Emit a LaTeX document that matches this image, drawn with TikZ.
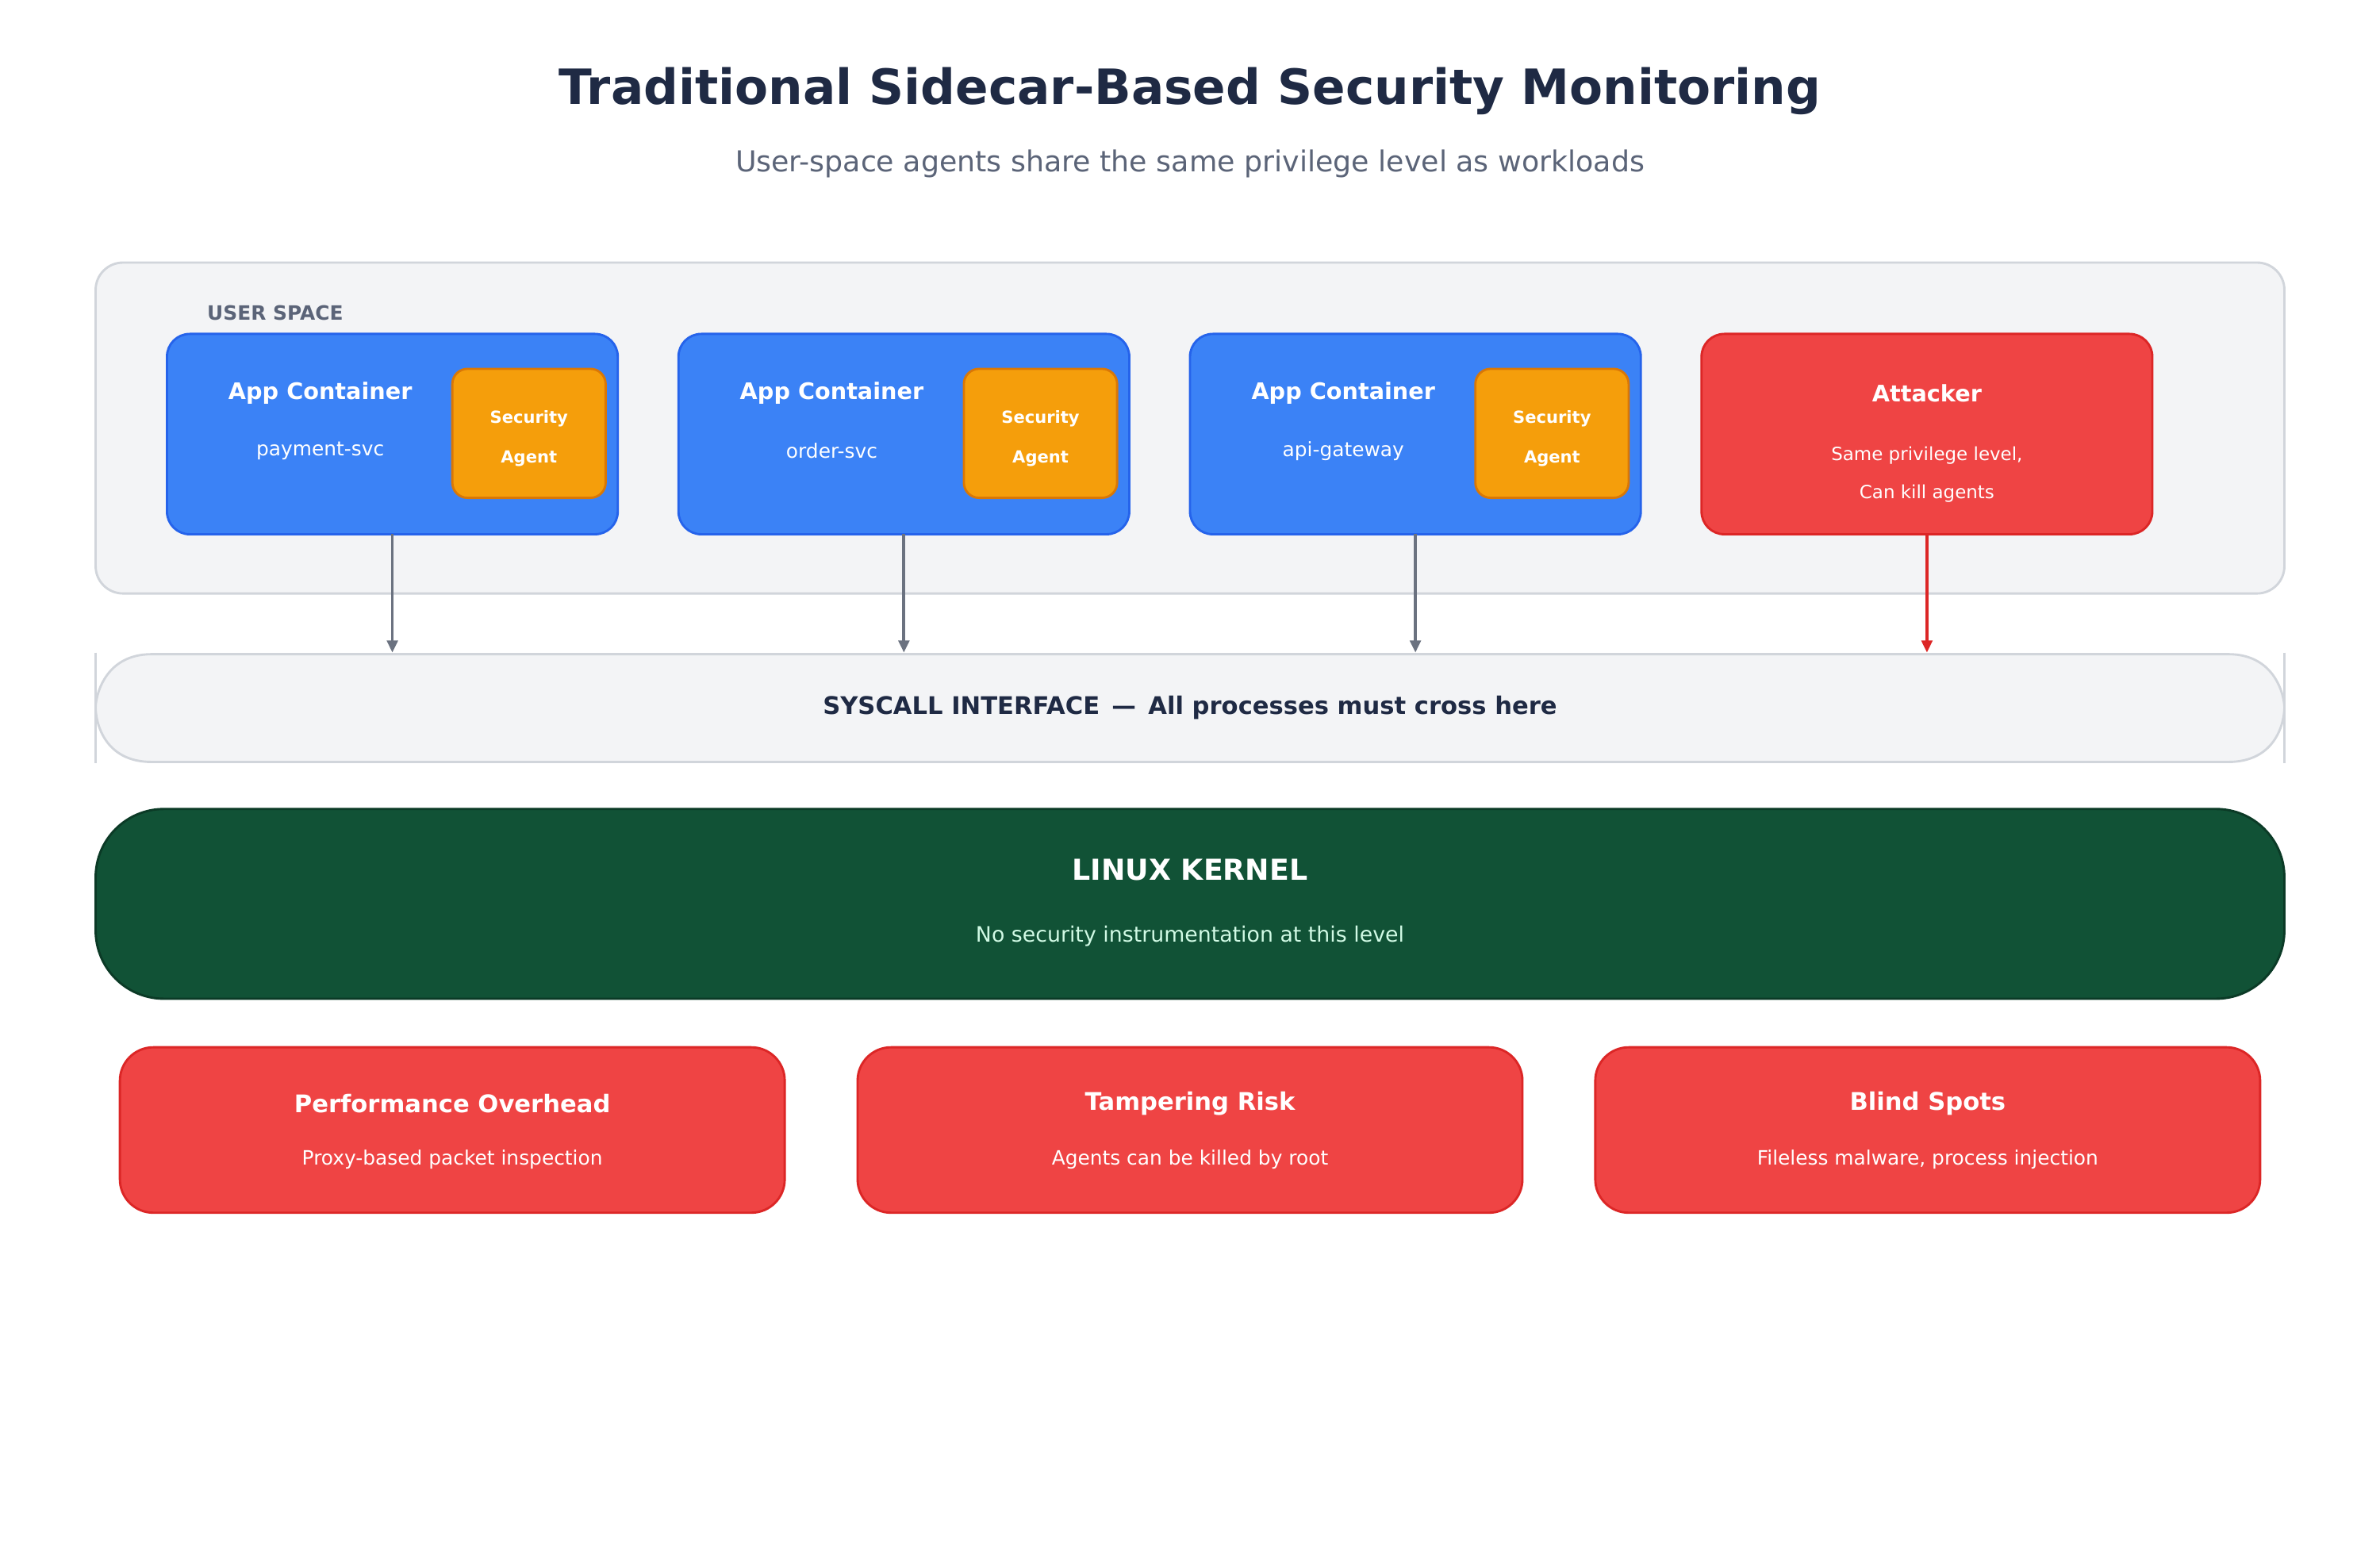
\documentclass[tikz,border=0pt]{standalone}
\usepackage{fontspec}
\setmainfont{DejaVu Sans}
\usetikzlibrary{arrows.meta}
\definecolor{ttl}{HTML}{1F2A44}
\definecolor{sub}{HTML}{5B6478}
\definecolor{usf}{HTML}{F3F4F6}
\definecolor{usd}{HTML}{D1D5DB}
\definecolor{blu}{HTML}{3B82F6}
\definecolor{blud}{HTML}{2563EB}
\definecolor{org}{HTML}{F59E0B}
\definecolor{orgd}{HTML}{D97706}
\definecolor{rd}{HTML}{EF4444}
\definecolor{rdd}{HTML}{DC2626}
\definecolor{arr}{HTML}{6B7280}
\definecolor{kf}{HTML}{115236}
\definecolor{kd}{HTML}{0B3A26}
\definecolor{kt}{HTML}{D1FAE5}
\begin{document}
\begin{tikzpicture}[x=1pt,y=-1pt,
 fs/.style={font=\fontsize{#1}{#1}\selectfont},
 bx/.style={line width=1.5pt,rounded corners=15pt},
 app/.style={bx,fill=blu,draw=blud},
 agent/.style={line width=1.5pt,rounded corners=10pt,fill=org,draw=orgd},
 bad/.style={bx,fill=rd,draw=rdd},
 wt/.style={text=white,anchor=center},
 ar/.style={line width=2pt,-{Triangle[length=8pt,width=7pt]}}]
\useasboundingbox (0,0) rectangle (1568,1029);
\fill[white] (0,0) rectangle (1568,1029);
\node[fs=32,font=\bfseries,text=ttl] (title) at (784,60) {\fontsize{32}{32}\selectfont\bfseries Traditional Sidecar-Based Security Monitoring};
\node[text=sub] (subt) at (784,108) {\fontsize{19}{19}\selectfont User-space agents share the same privilege level as workloads};
\draw[usd,fill=usf,line width=1.5pt,rounded corners=18pt] (63,173) rectangle (1505,391);
\node[text=sub,anchor=west] (us) at (133,206) {\fontsize{13}{13}\selectfont\bfseries USER SPACE};
\foreach \x/\n/\s in {110/a/payment-svc,447/b/order-svc,784/c/api-gateway}{
 \draw[app] (\x,220) rectangle ++(297,132);
 \node[wt] (\n t) at (\x+101,259) {\fontsize{15}{15}\selectfont\bfseries App Container};
 \node[wt] (\n s) at (\x+101,297) {\fontsize{13}{13}\selectfont \s};
 \draw[agent] (\x+188,243) rectangle ++(101,85);
 \node[wt] at (\x+238.5,276) {\fontsize{11}{11}\selectfont\bfseries Security};
 \node[wt] at (\x+238.5,302) {\fontsize{11}{11}\selectfont\bfseries Agent};
 \coordinate (\n o) at (\x+148.5,352);
 \coordinate (\n e) at (\x+148.5,430);
 \draw[ar,arr] (\n o) -- (\n e);
}
\draw[bad] (1121,220) rectangle (1418,352);
\node[wt] (att) at (1269.5,259) {\fontsize{15}{15}\selectfont\bfseries Attacker};
\node[wt] at (1269.5,300) {\fontsize{12}{12}\selectfont Same privilege level,};
\node[wt] at (1269.5,325) {\fontsize{12}{12}\selectfont Can kill agents};
\coordinate (do) at (1269.5,352); \coordinate (de) at (1269.5,430);
\draw[ar,rdd] (do) -- (de);
% syscall
\draw[usd,fill=usf,line width=1.5pt] (100,431) -- (1468,431) .. controls (1500,431) and (1505,460) .. (1505,466) .. controls (1505,475) and (1500,502) .. (1468,502) -- (100,502) .. controls (68,502) and (63,475) .. (63,466) .. controls (63,460) and (68,431) .. (100,431) -- cycle;
\draw[usd,line width=1.5pt] (63,430) -- (63,503) (1505,430) -- (1505,503);
\node[text=ttl] (sys) at (784,466) {\fontsize{16}{16}\selectfont\bfseries SYSCALL INTERFACE\enspace—\enspace All processes must cross here};
\draw[kd,fill=kf,line width=1.5pt,rounded corners=45pt] (63,533) rectangle (1505,658);
\node[wt] (k) at (784,573) {\fontsize{19}{19}\selectfont\bfseries LINUX KERNEL};
\node[text=kt] at (784,617) {\fontsize{14}{14}\selectfont No security instrumentation at this level};
\foreach \x/\t/\s in {79/Performance Overhead/Proxy-based packet inspection,565/Tampering Risk/Agents can be killed by root,1051/Blind Spots/{Fileless malware, process injection}}{
 \draw[bad,rounded corners=22pt] (\x,690) rectangle ++(438,109);
 \node[wt] at (\x+219,727) {\fontsize{16}{16}\selectfont\bfseries \t};
 \node[wt] at (\x+219,764) {\fontsize{13}{13}\selectfont \s};
}
\end{tikzpicture}
\end{document}
